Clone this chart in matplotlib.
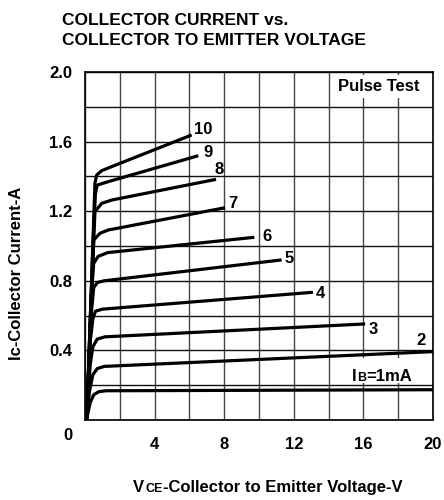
import matplotlib
matplotlib.use("Agg")
import matplotlib.pyplot as plt
from matplotlib.patches import Rectangle
import numpy as np

plt.rcParams['font.family'] = ['Liberation Sans', 'DejaVu Sans']

# ---- data ----
ib_labels = ["IB=1mA", "2", "3", "4", "5", "6", "7", "8", "9", "10"]
v1 = [0.08, 0.3, 0.5, 0.8, 1.2, 20.0];  i1 = [0.0, 0.10, 0.145, 0.163, 0.168, 0.174]
v2 = [0.1, 0.25, 0.45, 0.7, 1.1, 20.0]; i2 = [0.0, 0.16, 0.26, 0.295, 0.308, 0.393]
v3 = [0.1, 0.3, 0.45, 0.7, 1.15, 16.1]; i3 = [0.0, 0.32, 0.42, 0.465, 0.478, 0.552]
v4 = [0.1, 0.3, 0.45, 0.6, 1.0, 13.1];  i4 = [0.0, 0.45, 0.58, 0.625, 0.637, 0.734]
v5 = [0.1, 0.35, 0.5, 0.7, 1.1, 11.3];  i5 = [0.0, 0.6, 0.76, 0.79, 0.80, 0.92]
v6 = [0.1, 0.35, 0.5, 0.75, 1.3, 9.73]; i6 = [0.0, 0.7, 0.9, 0.94, 0.962, 1.05]
v7 = [0.1, 0.4, 0.5, 0.86, 1.34, 8.05]; i7 = [0.0, 0.8, 1.034, 1.073, 1.092, 1.22]
v8 = [0.1, 0.45, 0.57, 0.96, 1.53, 7.53]; i8 = [0.0, 0.9, 1.197, 1.245, 1.264, 1.383]
v9 = [0.1, 0.45, 0.6, 0.7, 1.34, 6.51]; i9 = [0.0, 1.0, 1.30, 1.35, 1.37, 1.519]
v10 = [0.1, 0.45, 0.57, 0.67, 0.96, 1.53, 6.13]; i10 = [0.0, 1.0, 1.36, 1.408, 1.433, 1.456, 1.638]
curves_v = [v1, v2, v3, v4, v5, v6, v7, v8, v9, v10]
curves_i = [i1, i2, i3, i4, i5, i6, i7, i8, i9, i10]
# label anchor positions (V, A) for curves 2..10
label_v = [19.3, 16.57, 13.5, 11.74, 10.46, 8.5, 7.7, 7.07, 6.78]
label_i = [0.456, 0.521, 0.728, 0.929, 1.057, 1.247, 1.437, 1.54, 1.667]

x_ticks = [4, 8, 12, 16, 20]
y_ticks = [0.4, 0.8, 1.2, 1.6, 2.0]
y_tick_labels = ["0.4", "0.8", "1.2", "1.6", "2.0"]

FS = 12
SMALL = 9
W, H = 444, 500
fig = plt.figure(figsize=(W / 100, H / 100), dpi=100)
ax = fig.add_axes([85 / W, 80 / H, 348 / W, 348 / H])
ax.set_xlim(0, 20)
ax.set_ylim(0, 2.0)

ax.set_xticks(np.arange(0, 21, 2), minor=True)
ax.set_yticks(np.arange(0, 2.01, 0.2), minor=True)
ax.set_xticks(x_ticks)
ax.set_xticklabels([str(t) for t in x_ticks])
ax.set_yticks(y_ticks)
ax.set_yticklabels(y_tick_labels)
ax.tick_params(which='both', length=0)
ax.tick_params(axis='x', pad=12, labelsize=FS)
ax.tick_params(axis='y', pad=9, labelsize=FS)
for lab in ax.get_xticklabels() + ax.get_yticklabels():
    lab.set_fontweight('bold')
ax.xaxis.grid(True, which='both', color='#444444', lw=1.0)
ax.yaxis.grid(True, which='both', color='#111111', lw=1.0)
ax.set_axisbelow(True)
for s in ax.spines.values():
    s.set_linewidth(1.2)
    s.set_color('black')

for vv, ii in zip(curves_v, curves_i):
    ax.plot(vv, ii, color='black', lw=2.3, solid_capstyle='butt', solid_joinstyle='round', zorder=3)

for k, (lv, li) in enumerate(zip(label_v, label_i)):
    ax.text(lv, li, ib_labels[k + 1], fontsize=FS, fontweight='bold', ha='center', va='center', zorder=4)

# white backgrounds for the in-plot notes
ax.add_patch(Rectangle((15.0, 0.213), 4.3, 0.143, facecolor='white', edgecolor='none', zorder=1.5))
ax.add_patch(Rectangle((14.2, 1.85), 5.5, 0.135, facecolor='white', edgecolor='none', zorder=1.5))

fig.canvas.draw()
r = fig.canvas.get_renderer()
inv = ax.transData.inverted()

# IB=1mA label with small-caps B
yb = 0.224
t1 = ax.text(15.34, yb, "I", fontsize=FS, fontweight='bold', ha='left', va='baseline', zorder=4)
bb = t1.get_window_extent(r)
xb = inv.transform((bb.x1 + 1, 0))[0]
t2 = ax.text(xb, yb, "B", fontsize=SMALL, fontweight='bold', ha='left', va='baseline', zorder=4)
bb = t2.get_window_extent(r)
xb = inv.transform((bb.x1, 0))[0]
ax.text(xb, yb, "=1mA", fontsize=FS, fontweight='bold', ha='left', va='baseline', zorder=4)

ax.text(14.54, 1.89, "Pulse Test", fontsize=FS, fontweight='bold', ha='left', va='baseline', zorder=4)

# corner zero
fig.text(68 / W, 1 - 435 / H, "0", fontsize=FS, fontweight='bold', ha='center', va='center')

# title
fig.text(62 / W, 1 - 25 / H, "COLLECTOR CURRENT vs.", fontsize=12.5, fontweight='bold', ha='left', va='baseline')
fig.text(62 / W, 1 - 45 / H, "COLLECTOR TO EMITTER VOLTAGE", fontsize=12.5, fontweight='bold', ha='left', va='baseline')

# y label
fig.text(17 / W, 1 - 273 / H, "Ic-Collector Current-A", fontsize=FS, fontweight='bold', rotation=90,
         ha='center', va='center')

# x label with small-caps CE
ylab = 1 - 492 / H
xa = fig.text(133 / W, ylab, "V", fontsize=FS, fontweight='bold', ha='left', va='baseline')
bb = xa.get_window_extent(r)
xc = fig.text((bb.x1 + 1) / W, ylab, "CE", fontsize=SMALL, fontweight='bold', ha='left', va='baseline')
bb = xc.get_window_extent(r)
fig.text(bb.x1 / W, ylab, "-Collector to Emitter Voltage-V", fontsize=FS, fontweight='bold', ha='left', va='baseline')

fig.savefig("out.png", dpi=100)
